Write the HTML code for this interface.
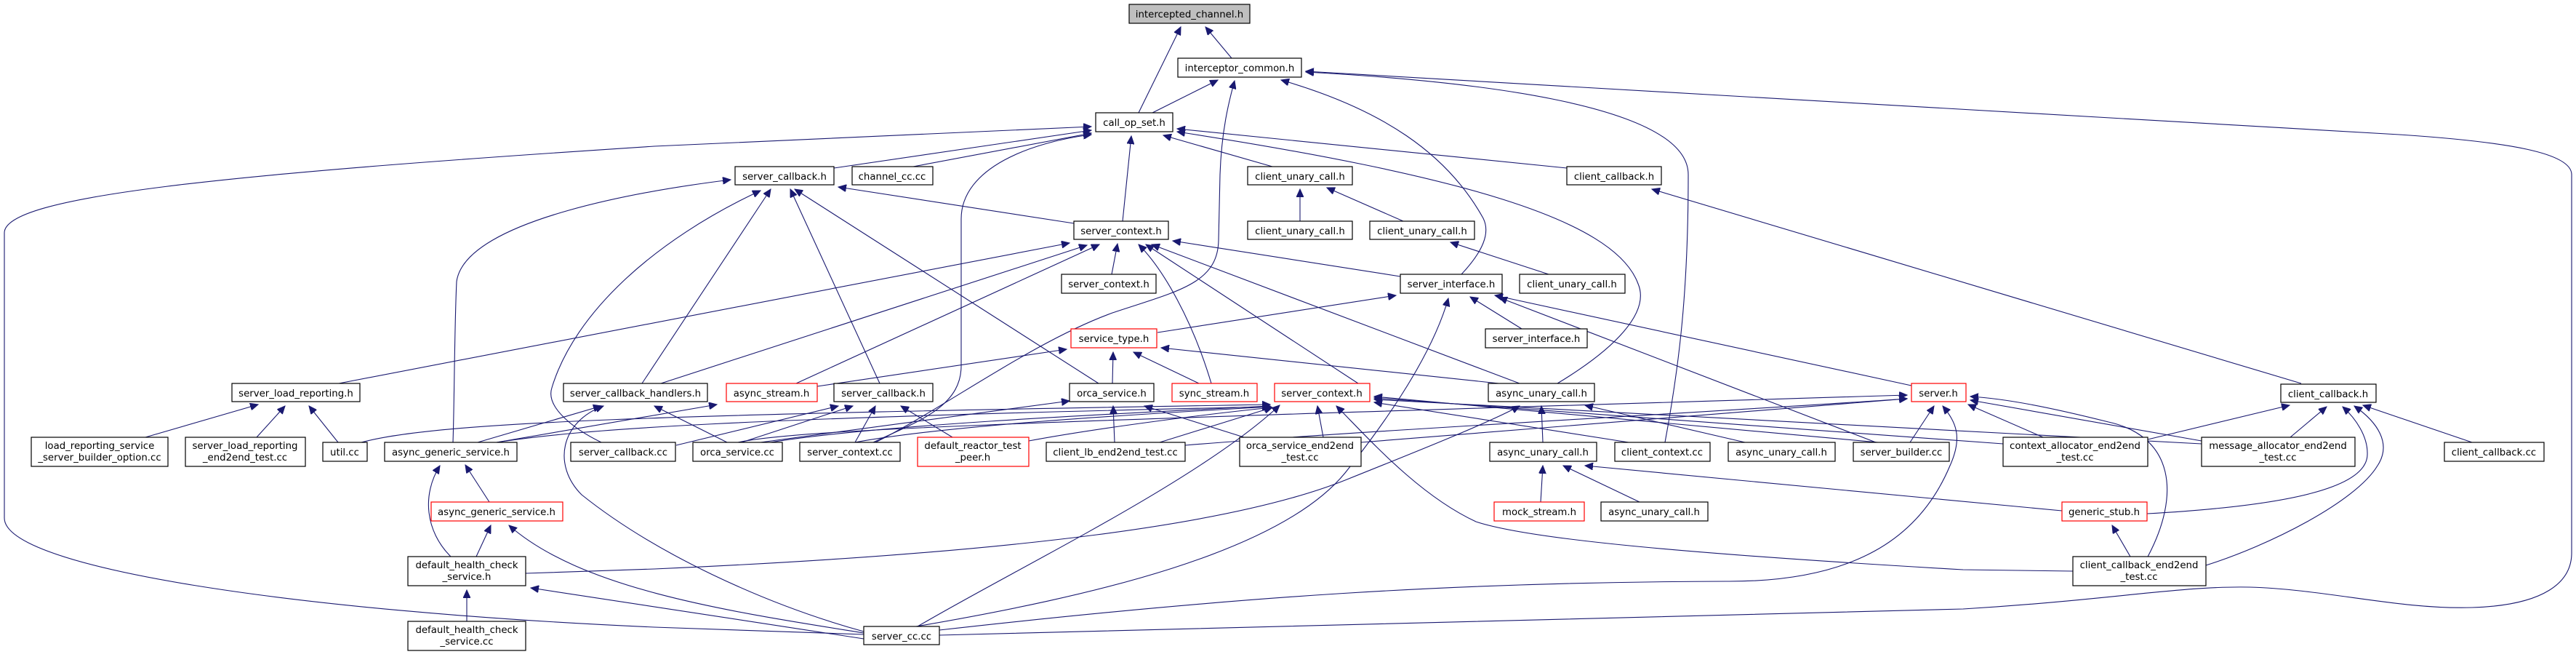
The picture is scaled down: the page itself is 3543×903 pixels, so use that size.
<!DOCTYPE html>
<html><head><meta charset="utf-8"><style>
html,body{margin:0;padding:0;background:#fff;}
svg{display:block;}
text{font-family:"DejaVu Sans","Liberation Sans",sans-serif;font-size:13.3px;fill:#000;}
.e{fill:none;stroke:#191970;stroke-width:1.1;marker-end:url(#ah);}
.n{fill:#fff;stroke:#000;stroke-width:1.2;}
.r{fill:#fff;stroke:#ff0000;stroke-width:1.2;}
</style></head><body>
<svg width="3543" height="903" viewBox="0 0 3543 903" xmlns="http://www.w3.org/2000/svg">
<defs><marker id="ah" markerUnits="userSpaceOnUse" markerWidth="12" markerHeight="10" refX="11" refY="5" orient="auto"><path d="M0,0 L11,5 L0,10 z" fill="#191970" stroke="#191970"/></marker></defs>
<g>
<path class="e" d="M1694,80 L1658,37"/>
<path class="e" d="M1566,155 L1624,37"/>
<path class="e" d="M1585,155 L1675,110"/>
<path class="e" d="M2290,608 C2310,500 2322,400 2322,240 C2322,140 2000,110 1796,99"/>
<path class="e" d="M1292,873 L2700,837 C2900,825 3000,805 3094,807 C3200,810 3300,838 3400,835 C3500,832 3537,800 3537,760 L3537,240 C3537,210 3450,195 3300,185 L1796,98"/>
<path class="e" d="M2010,377 C2040,345 2050,320 2040,300 C1990,210 1900,150 1762,110"/>
<path class="e" d="M1204,608 C1300,560 1420,470 1530,430 C1620,400 1675,390 1676,330 L1678,240 C1680,180 1690,140 1698,111"/>
<path class="e" d="M1188,872 L900,862 C400,840 6,780 6,712 L6,320 C6,270 300,240 900,201 L1501,174"/>
<path class="e" d="M623,608 C625,550 625,450 628,387 C640,300 900,260 1005,247"/>
<path class="e" d="M827,608 C790,590 750,560 759,533 C790,430 900,330 1046,262"/>
<path class="e" d="M883,527 L1060,260"/>
<path class="e" d="M466,527 L1471,334"/>
<path class="e" d="M909,527 L1495,337"/>
<path class="e" d="M1147,231 L1501,179"/>
<path class="e" d="M1256,229 L1501,183"/>
<path class="e" d="M1201,608 C1260,580 1322,560 1322,503 L1322,301 C1322,230 1420,195 1501,185"/>
<path class="e" d="M1544,304 L1556,187"/>
<path class="e" d="M1750,229 L1600,186"/>
<path class="e" d="M2155,231 L1619,177"/>
<path class="e" d="M2142,527 C2220,480 2270,430 2253,390 C2220,300 2000,240 1619,181"/>
<path class="e" d="M1477,307 L1153,257"/>
<path class="e" d="M1511,527 L1093,260"/>
<path class="e" d="M1210,527 L1087,260"/>
<path class="e" d="M1095,527 L1512,336"/>
<path class="e" d="M1529,377 L1537,335"/>
<path class="e" d="M1666,527 C1640,440 1600,370 1566,336"/>
<path class="e" d="M1868,527 L1576,336"/>
<path class="e" d="M1926,380 L1613,331"/>
<path class="e" d="M2090,527 L1584,336"/>
<path class="e" d="M1592,457 L1920,406"/>
<path class="e" d="M2093,452 L2022,408"/>
<path class="e" d="M2629,530 L2056,406"/>
<path class="e" d="M2580,608 L2062,409"/>
<path class="e" d="M1260,861 C1500,820 1760,760 1850,650 C1930,550 1975,470 1992,410"/>
<path class="e" d="M1124,531 L1467,480"/>
<path class="e" d="M1530,527 L1531,484"/>
<path class="e" d="M1649,527 L1559,484"/>
<path class="e" d="M2090,530 L1597,478"/>
<path class="e" d="M1015,608 C1100,590 1400,580 2623,543"/>
<path class="e" d="M1872,608 L2623,548"/>
<path class="e" d="M2627,608 L2660,558"/>
<path class="e" d="M1292,866 C1700,820 2000,800 2374,799 C2550,800 2640,740 2682,640 C2700,600 2690,580 2672,558"/>
<path class="e" d="M2810,601 L2707,556"/>
<path class="e" d="M3028,606 L2710,550"/>
<path class="e" d="M2953,767 C3000,680 2990,600 2900,580 C2820,560 2760,548 2710,545"/>
<path class="e" d="M2954,604 L3149,557"/>
<path class="e" d="M3150,601 L3200,559"/>
<path class="e" d="M3400,608 L3250,557"/>
<path class="e" d="M2953,706 C3150,695 3255,670 3256,625 C3257,600 3240,575 3222,559"/>
<path class="e" d="M3034,777 C3120,750 3240,690 3270,640 C3290,610 3270,580 3238,558"/>
<path class="e" d="M3165,527 L2272,260"/>
<path class="e" d="M2930,765 L2905,722"/>
<path class="e" d="M2851,785 L2700,783 C2300,760 2100,740 2030,717 C1950,680 1880,600 1838,558"/>
<path class="e" d="M2836,702 L2180,640"/>
<path class="e" d="M2119,690 L2122,640"/>
<path class="e" d="M2255,690 L2150,640"/>
<path class="e" d="M2122,608 L2120,558"/>
<path class="e" d="M2400,608 L2180,557"/>
<path class="e" d="M723,788 L900,782 C1400,760 1700,720 1850,660 C1950,620 2050,580 2090,558"/>
<path class="e" d="M2240,608 L1890,553"/>
<path class="e" d="M1262,861 C1400,780 1650,660 1760,557"/>
<path class="e" d="M1820,601 L1812,558"/>
<path class="e" d="M497,608 C600,580 900,570 1747,556"/>
<path class="e" d="M683,608 C800,590 1000,575 1747,559"/>
<path class="e" d="M1060,608 C1200,585 1500,570 1747,558"/>
<path class="e" d="M1176,608 C1300,585 1550,570 1748,559"/>
<path class="e" d="M1595,608 L1750,560"/>
<path class="e" d="M1415,606 C1500,590 1650,570 1750,560"/>
<path class="e" d="M2583,608 L1890,545"/>
<path class="e" d="M2755,610 L1890,547"/>
<path class="e" d="M3028,610 L1890,549"/>
<path class="e" d="M1046,608 L1471,551"/>
<path class="e" d="M1533,608 L1531,558"/>
<path class="e" d="M1727,606 L1574,558"/>
<path class="e" d="M930,612 L1153,558"/>
<path class="e" d="M1020,608 L1173,558"/>
<path class="e" d="M1176,608 L1204,558"/>
<path class="e" d="M1310,601 L1239,558"/>
<path class="e" d="M657,608 L827,558"/>
<path class="e" d="M1000,608 L900,558"/>
<path class="e" d="M1188,868 C1050,830 900,760 800,680 C760,640 770,580 830,558"/>
<path class="e" d="M683,608 L986,556"/>
<path class="e" d="M200,601 L355,556"/>
<path class="e" d="M353,601 L392,558"/>
<path class="e" d="M465,608 L425,558"/>
<path class="e" d="M673,690 L640,639"/>
<path class="e" d="M620,765 C585,730 580,680 605,640"/>
<path class="e" d="M655,765 L675,722"/>
<path class="e" d="M1188,870 C1000,840 800,810 700,722"/>
<path class="e" d="M1188,878 L730,808"/>
<path class="e" d="M642,854 L642,811"/>
<path class="e" d="M1630,612 C1900,590 2300,570 2623,548"/>
<path class="e" d="M1788,304 L1788,260"/>
<path class="e" d="M1930,304 L1825,258"/>
<path class="e" d="M2130,377 L1995,333"/>
</g>
<g text-anchor="middle">
<rect x="1553" y="6" width="166" height="26" fill="#bfbfbf" stroke="#000" stroke-width="1.2"/><text x="1636" y="24">intercepted_channel.h</text>
<rect class="n" x="1620" y="80" width="170" height="26"/><text x="1705" y="98">interceptor_common.h</text>
<rect class="n" x="1507" y="155" width="106" height="26"/><text x="1560" y="173">call_op_set.h</text>
<rect class="n" x="1011" y="229" width="136" height="25"/><text x="1079" y="247">server_callback.h</text>
<rect class="n" x="1172" y="229" width="111" height="25"/><text x="1227" y="247">channel_cc.cc</text>
<rect class="n" x="1716" y="229" width="144" height="25"/><text x="1788" y="247">client_unary_call.h</text>
<rect class="n" x="2155" y="229" width="130" height="25"/><text x="2220" y="247">client_callback.h</text>
<rect class="n" x="1477" y="304" width="130" height="25"/><text x="1542" y="322">server_context.h</text>
<rect class="n" x="1716" y="304" width="144" height="25"/><text x="1788" y="322">client_unary_call.h</text>
<rect class="n" x="1884" y="304" width="144" height="25"/><text x="1956" y="322">client_unary_call.h</text>
<rect class="n" x="1460" y="377" width="130" height="26"/><text x="1525" y="395">server_context.h</text>
<rect class="n" x="1926" y="377" width="140" height="26"/><text x="1996" y="395">server_interface.h</text>
<rect class="n" x="2090" y="377" width="145" height="26"/><text x="2162" y="395">client_unary_call.h</text>
<rect class="r" x="1473" y="452" width="118" height="26"/><text x="1532" y="470">service_type.h</text>
<rect class="n" x="2043" y="452" width="140" height="26"/><text x="2113" y="470">server_interface.h</text>
<rect class="n" x="319" y="527" width="176" height="25"/><text x="407" y="545">server_load_reporting.h</text>
<rect class="n" x="775" y="527" width="198" height="25"/><text x="874" y="545">server_callback_handlers.h</text>
<rect class="r" x="999" y="527" width="125" height="25"/><text x="1061" y="545">async_stream.h</text>
<rect class="n" x="1147" y="527" width="136" height="25"/><text x="1215" y="545">server_callback.h</text>
<rect class="n" x="1471" y="527" width="116" height="25"/><text x="1529" y="545">orca_service.h</text>
<rect class="r" x="1612" y="527" width="117" height="25"/><text x="1670" y="545">sync_stream.h</text>
<rect class="r" x="1753" y="527" width="131" height="25"/><text x="1818" y="545">server_context.h</text>
<rect class="n" x="2047" y="527" width="146" height="25"/><text x="2120" y="545">async_unary_call.h</text>
<rect class="r" x="2629" y="527" width="75" height="25"/><text x="2666" y="545">server.h</text>
<rect class="n" x="3137" y="528" width="131" height="25"/><text x="3202" y="546">client_callback.h</text>
<rect class="n" x="43" y="601" width="188" height="40"/><text x="137" y="617">load_reporting_service</text><text x="137" y="633">_server_builder_option.cc</text>
<rect class="n" x="255" y="601" width="165" height="40"/><text x="337" y="617">server_load_reporting</text><text x="337" y="633">_end2end_test.cc</text>
<rect class="n" x="444" y="608" width="61" height="26"/><text x="474" y="626">util.cc</text>
<rect class="n" x="529" y="608" width="182" height="26"/><text x="620" y="626">async_generic_service.h</text>
<rect class="n" x="785" y="608" width="144" height="26"/><text x="857" y="626">server_callback.cc</text>
<rect class="n" x="953" y="608" width="123" height="26"/><text x="1014" y="626">orca_service.cc</text>
<rect class="n" x="1100" y="608" width="138" height="26"/><text x="1169" y="626">server_context.cc</text>
<rect class="r" x="1262" y="601" width="153" height="40"/><text x="1338" y="617">default_reactor_test</text><text x="1338" y="633">_peer.h</text>
<rect class="n" x="1439" y="608" width="191" height="26"/><text x="1534" y="626">client_lb_end2end_test.cc</text>
<rect class="n" x="1705" y="601" width="167" height="40"/><text x="1788" y="617">orca_service_end2end</text><text x="1788" y="633">_test.cc</text>
<rect class="n" x="2049" y="608" width="147" height="26"/><text x="2122" y="626">async_unary_call.h</text>
<rect class="n" x="2221" y="608" width="131" height="26"/><text x="2286" y="626">client_context.cc</text>
<rect class="n" x="2377" y="608" width="147" height="26"/><text x="2450" y="626">async_unary_call.h</text>
<rect class="n" x="2549" y="608" width="132" height="26"/><text x="2615" y="626">server_builder.cc</text>
<rect class="n" x="2755" y="601" width="199" height="40"/><text x="2854" y="617">context_allocator_end2end</text><text x="2854" y="633">_test.cc</text>
<rect class="n" x="3028" y="601" width="211" height="40"/><text x="3133" y="617">message_allocator_end2end</text><text x="3133" y="633">_test.cc</text>
<rect class="n" x="3362" y="608" width="137" height="26"/><text x="3430" y="626">client_callback.cc</text>
<rect class="r" x="593" y="690" width="181" height="26"/><text x="683" y="708">async_generic_service.h</text>
<rect class="r" x="2055" y="690" width="124" height="26"/><text x="2117" y="708">mock_stream.h</text>
<rect class="n" x="2202" y="690" width="147" height="26"/><text x="2275" y="708">async_unary_call.h</text>
<rect class="r" x="2836" y="690" width="117" height="26"/><text x="2894" y="708">generic_stub.h</text>
<rect class="n" x="561" y="765" width="162" height="40"/><text x="642" y="781">default_health_check</text><text x="642" y="797">_service.h</text>
<rect class="n" x="2851" y="765" width="183" height="40"/><text x="2942" y="781">client_callback_end2end</text><text x="2942" y="797">_test.cc</text>
<rect class="n" x="1188" y="861" width="104" height="25"/><text x="1240" y="879">server_cc.cc</text>
<rect class="n" x="561" y="854" width="162" height="40"/><text x="642" y="870">default_health_check</text><text x="642" y="886">_service.cc</text>
</g>
</svg>
</body></html>
